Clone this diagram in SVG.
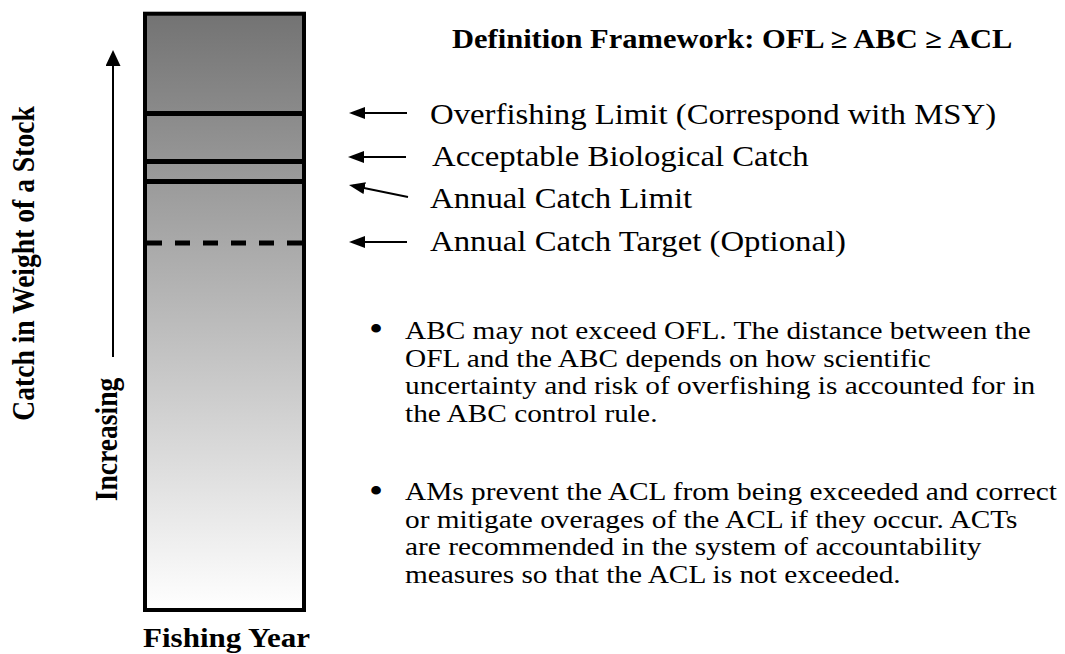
<svg xmlns="http://www.w3.org/2000/svg" width="1065" height="654" viewBox="0 0 1065 654">
<defs>
<linearGradient id="fill" x1="0" y1="0" x2="0" y2="1">
<stop offset="0" stop-color="#737373"/>
<stop offset="1" stop-color="#ffffff"/>
</linearGradient>
<marker id="ah" markerUnits="userSpaceOnUse" markerWidth="16" markerHeight="12" refX="12" refY="6" orient="auto">
<path d="M0,0 L16,6 L0,12 z" fill="#000"/>
</marker>
<marker id="ahv" markerUnits="userSpaceOnUse" markerWidth="16" markerHeight="15" refX="12" refY="7.5" orient="auto">
<path d="M0,0 L16,7.5 L0,15 z" fill="#000"/>
</marker>
</defs>
<style>
.b{font-family:"Liberation Serif","Times New Roman",serif;font-weight:bold;fill:#000}
.r{font-family:"Liberation Serif","Times New Roman",serif;fill:#000}
.lbl{font-size:29.8px}
.bul{font-size:26.2px}
.dot{font-size:36px}
.ttl{font-size:27px}
.rot{font-size:27.6px}
.conn{stroke:#000;stroke-width:2;fill:none}
</style>
<g id="stock-bar">
<rect x="145" y="13.7" width="159" height="596.3" fill="url(#fill)" stroke="#000" stroke-width="4"/>
<line x1="147" y1="113.5" x2="302" y2="113.5" stroke="#000" stroke-width="5"/>
<line x1="147" y1="161.5" x2="302" y2="161.5" stroke="#000" stroke-width="5"/>
<line x1="147" y1="181.5" x2="302" y2="181.5" stroke="#000" stroke-width="5"/>
<line x1="147" y1="243" x2="302" y2="243" stroke="#000" stroke-width="5" stroke-dasharray="15 13"/>
</g>
<g id="title"><text class="b ttl" transform="translate(452,48) scale(1.13,1)">Definition Framework: OFL ≥ ABC ≥ ACL</text></g>
<g id="y-axis">
<text class="b rot" text-anchor="middle" transform="translate(34,263.5) scale(1.12,1) rotate(-90)">Catch in Weight of a Stock</text>
<text class="b rot" text-anchor="middle" transform="translate(117,439.5) scale(1.12,1) rotate(-90)">Increasing</text>
</g>
<g id="x-axis"><text class="b ttl" transform="translate(143,647) scale(1.15,1)">Fishing Year</text></g>
<g id="label-ofl"><text class="r lbl" transform="translate(430,124) scale(1.1,1)">Overfishing Limit (Correspond with MSY)</text></g>
<g id="label-abc"><text class="r lbl" transform="translate(432,166) scale(1.1,1)">Acceptable Biological Catch</text></g>
<g id="label-acl"><text class="r lbl" transform="translate(430,208) scale(1.1,1)">Annual Catch Limit</text></g>
<g id="label-act"><text class="r lbl" transform="translate(430,251) scale(1.1,1)">Annual Catch Target (Optional)</text></g>
<g id="bullet-1" class="r bul">
<text class="dot" text-anchor="middle" transform="translate(376,341) scale(1.12,1)">•</text>
<text transform="translate(405,339) scale(1.12,1)">ABC may not exceed OFL. The distance between the</text>
<text transform="translate(405,366.5) scale(1.12,1)">OFL and the ABC depends on how scientific</text>
<text transform="translate(405,394) scale(1.12,1)">uncertainty and risk of overfishing is accounted for in</text>
<text transform="translate(405,421.5) scale(1.12,1)">the ABC control rule.</text>
</g>
<g id="bullet-2" class="r bul">
<text class="dot" text-anchor="middle" transform="translate(376,503) scale(1.12,1)">•</text>
<text transform="translate(405,500) scale(1.12,1)">AMs prevent the ACL from being exceeded and correct</text>
<text transform="translate(405,527.5) scale(1.12,1)">or mitigate overages of the ACL if they occur. ACTs</text>
<text transform="translate(405,555) scale(1.12,1)">are recommended in the system of accountability</text>
<text transform="translate(405,582.5) scale(1.12,1)">measures so that the ACL is not exceeded.</text>
</g>
<g id="connectors">
<line class="conn" x1="113" y1="357" x2="113" y2="54" stroke-width="1.5" marker-end="url(#ahv)"/>
<line class="conn" x1="407" y1="113" x2="353" y2="113" marker-end="url(#ah)"/>
<line class="conn" x1="406" y1="157" x2="352" y2="157" marker-end="url(#ah)"/>
<line class="conn" x1="408" y1="197" x2="352.9" y2="185.8" marker-end="url(#ah)"/>
<line class="conn" x1="407" y1="242" x2="353" y2="242" marker-end="url(#ah)"/>
</g>
</svg>
